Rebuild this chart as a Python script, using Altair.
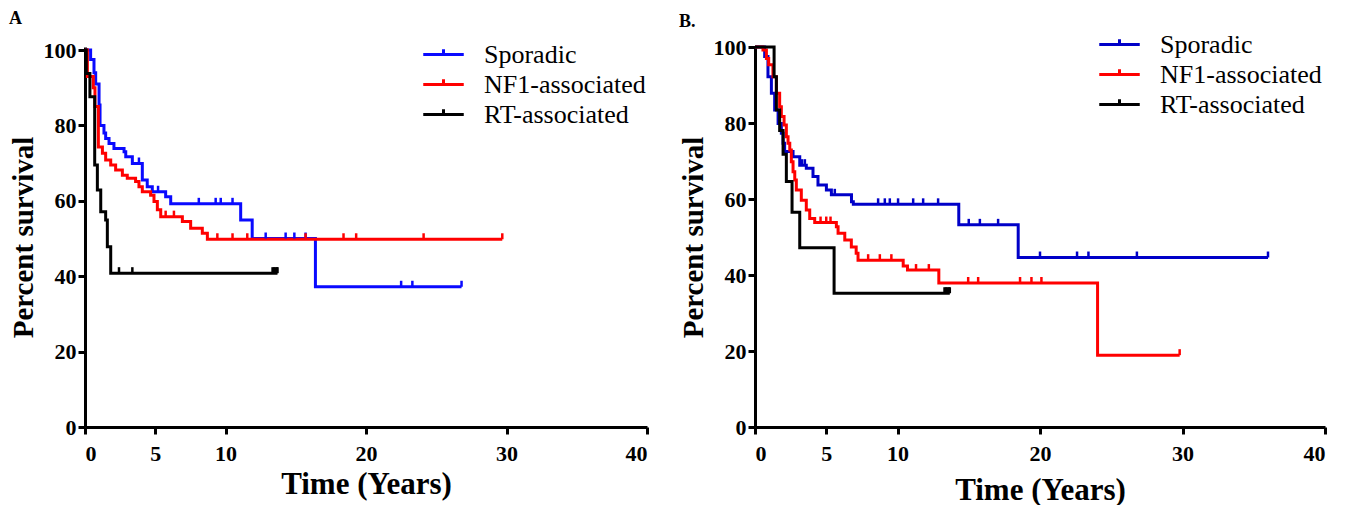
import altair as alt
import pandas as pd
from bisect import bisect_right

GROUPS = ["Sporadic", "NF1-associated", "RT-associated"]
COLORS_A = ["#0a0aff", "#ff0000", "#000000"]
COLORS_B = ["#0000c8", "#ff0000", "#000000"]
X_TICKS = [0, 5, 10, 20, 30, 40]
Y_TICKS = [0, 20, 40, 60, 80, 100]

# ---------------- Panel A ----------------
A_SPOR_T = [0, 0.4, 0.64, 0.76, 1.0, 1.07, 1.35, 1.47, 1.71, 2.06, 2.78, 2.9, 3.37, 4.08, 4.43, 4.79, 5.74, 6.1, 11.08, 11.9, 16.4]
A_SPOR_S = [100, 97.5, 94, 91, 85.4, 80, 78, 76.5, 75.2, 73.9, 73.0, 71.7, 69.9, 65.5, 63.7, 62.4, 61.1, 59.2, 54.9, 50.0, 37.2]
A_SPOR_END = 26.8
A_SPOR_CENS = [3.84, 5.2, 8.1, 9.3, 9.66, 10.5, 12.86, 14.28, 14.9, 15.7, 22.5, 23.3, 26.8]

A_NF1_T = [0, 0.17, 0.59, 0.71, 0.95, 1.24, 1.47, 1.83, 2.18, 2.66, 3.01, 3.6, 3.84, 4.08, 4.67, 4.91, 5.15, 5.39, 6.93, 7.52, 8.35, 8.71]
A_NF1_S = [100, 93, 90, 85, 74.3, 72.6, 70.8, 69.5, 68.2, 66.8, 66.0, 65.1, 63.7, 62.4, 61.5, 59.8, 57.6, 55.8, 54.5, 52.7, 51.4, 49.8]
A_NF1_END = 29.7
A_NF1_CENS = [5.74, 6.33, 9.42, 10.5, 11.55, 15.7, 18.4, 19.3, 24.1, 29.7]

A_RT_T = [0, 0.09, 0.35, 0.69, 0.88, 1.12, 1.47, 1.59, 1.83]
A_RT_S = [100, 93.8, 87.6, 69.5, 62.9, 57.1, 54.9, 47.8, 40.8]
A_RT_END = 13.7
A_RT_CENS = [2.42, 3.37, 13.35, 13.45, 13.55, 13.65, 13.7]

# ---------------- Panel B ----------------
B_SPOR_T = [0, 0.68, 0.91, 1.15, 1.38, 1.62, 1.85, 1.97, 2.08, 2.67, 3.14, 3.6, 4.07, 4.42, 5.01, 5.36, 6.77, 6.9, 14.3, 18.47]
B_SPOR_S = [100, 97.5, 92.2, 87.8, 83.4, 79.9, 77.3, 74.7, 72.5, 71.1, 68.9, 68.1, 65.9, 63.7, 62.4, 61.1, 59.3, 58.6, 53.2, 44.6]
B_SPOR_END = 36.0
B_SPOR_CENS = [3.3, 3.5, 5.6, 8.64, 9.11, 9.46, 10.04, 11.1, 11.8, 12.85, 15.0, 15.78, 17.06, 20.0, 22.6, 23.4, 26.8, 36.0]

B_NF1_T = [0, 0.56, 0.80, 0.96, 1.26, 1.5, 1.73, 1.85, 2.04, 2.2, 2.32, 2.44, 2.55, 2.67, 2.79, 2.9, 3.25, 3.6, 3.84, 4.19, 5.71, 5.83, 6.3, 6.76, 7.1, 7.23, 10.4, 10.7, 12.9, 24.04]
B_NF1_S = [100, 99.2, 97.0, 95.3, 92.2, 87.8, 84.3, 81.7, 79.5, 76.4, 74.7, 72.9, 69.8, 67.2, 65.0, 62.4, 59.7, 57.1, 54.9, 53.8, 52.7, 51.0, 49.2, 47.4, 45.7, 43.9, 42.4, 41.3, 37.9, 18.9]
B_NF1_END = 29.8
B_NF1_CENS = [4.6, 5.0, 5.3, 7.94, 8.76, 9.57, 11.3, 12.2, 14.96, 15.66, 18.6, 19.4, 20.1, 29.8]

B_RT_T = [0, 1.34, 1.5, 1.73, 1.97, 2.2, 2.6, 3.14, 5.55]
B_RT_S = [100, 92.2, 83.4, 78.0, 71.8, 64.6, 56.5, 47.2, 35.2]
B_RT_END = 13.67
B_RT_CENS = [13.3, 13.4, 13.5, 13.6, 13.67]

PANEL_A = [
    ("Sporadic", A_SPOR_T, A_SPOR_S, A_SPOR_END, A_SPOR_CENS),
    ("NF1-associated", A_NF1_T, A_NF1_S, A_NF1_END, A_NF1_CENS),
    ("RT-associated", A_RT_T, A_RT_S, A_RT_END, A_RT_CENS),
]
PANEL_B = [
    ("Sporadic", B_SPOR_T, B_SPOR_S, B_SPOR_END, B_SPOR_CENS),
    ("NF1-associated", B_NF1_T, B_NF1_S, B_NF1_END, B_NF1_CENS),
    ("RT-associated", B_RT_T, B_RT_S, B_RT_END, B_RT_CENS),
]

FONT = "Liberation Serif"


def build_frames(panel):
    lines, cens = [], []
    for group, ts, ss, end, cs in panel:
        for t, s in zip(ts, ss):
            lines.append({"t": t, "s": s, "group": group})
        lines.append({"t": end, "s": ss[-1], "group": group})
        for c in cs:
            cens.append({"t": c, "s": ss[bisect_right(ts, c) - 1], "group": group})
    return pd.DataFrame(lines), pd.DataFrame(cens)


def panel_chart(panel, colors, label, width, height, y_top, legend_x, legend_y, title_offset, x_title_pad):
    df_lines, df_cens = build_frames(panel)
    xaxis = alt.Axis(values=X_TICKS, grid=False, domainWidth=3, domainColor="black",
                     tickWidth=3, tickSize=7, tickColor="black",
                     labelFont=FONT, labelFontSize=22, labelFontWeight="bold", labelColor="black",
                     labelPadding=9, titleFont=FONT, titleFontSize=31, titleFontWeight="bold",
                     titleColor="black", titlePadding=x_title_pad)
    yaxis = alt.Axis(values=Y_TICKS, grid=False, domainWidth=3, domainColor="black",
                     tickWidth=3, tickSize=7, tickColor="black",
                     labelFont=FONT, labelFontSize=22, labelFontWeight="bold", labelColor="black",
                     labelPadding=2, titleFont=FONT, titleFontSize=29, titleFontWeight="bold",
                     titleColor="black", titlePadding=5)
    legend = alt.Legend(title=None, orient="none", legendX=legend_x, legendY=legend_y,
                        symbolType="M-1.35,0L1.35,0M0,0L0,-0.35", symbolSize=900,
                        symbolStrokeWidth=3, labelFont=FONT, labelFontSize=26,
                        labelColor="black", labelOffset=24, labelLimit=400,
                        rowPadding=0, padding=0)
    color = alt.Color("group:N", scale=alt.Scale(domain=GROUPS, range=colors), legend=legend)
    x = alt.X("t:Q", scale=alt.Scale(domain=[0, 40], nice=False), axis=xaxis, title="Time (Years)")
    y = alt.Y("s:Q", scale=alt.Scale(domain=[0, y_top], nice=False), axis=yaxis, title="Percent survival")

    lines = alt.Chart(df_lines).mark_line(interpolate="step-after", strokeWidth=3).encode(
        x=x, y=y, color=color)
    ticks = alt.Chart(df_cens).mark_point(shape="M0,0L0,-1", size=144, strokeWidth=2.5,
                                          filled=False, opacity=1).encode(x=x, y=y, color=color)
    return alt.layer(lines, ticks).properties(
        width=width, height=height,
        title=alt.TitleParams(label, anchor="start", font=FONT, fontSize=18,
                              fontWeight="bold", color="black", offset=title_offset),
    )


chart_a = panel_chart(PANEL_A, COLORS_A, "A", 562, 380, 100.8, 342, -9, 10, 5)
chart_b = panel_chart(PANEL_B, COLORS_B, "B.", 570, 380, 100, 348, -19, -3, 11)

chart = alt.hconcat(chart_a, chart_b, spacing=30).resolve_scale(color="independent").properties(
    padding={"left": 1, "top": 2, "right": 0, "bottom": 0}
).configure_view(strokeWidth=0)

chart.save("out.html", embed_options={"renderer": "svg", "actions": False})
